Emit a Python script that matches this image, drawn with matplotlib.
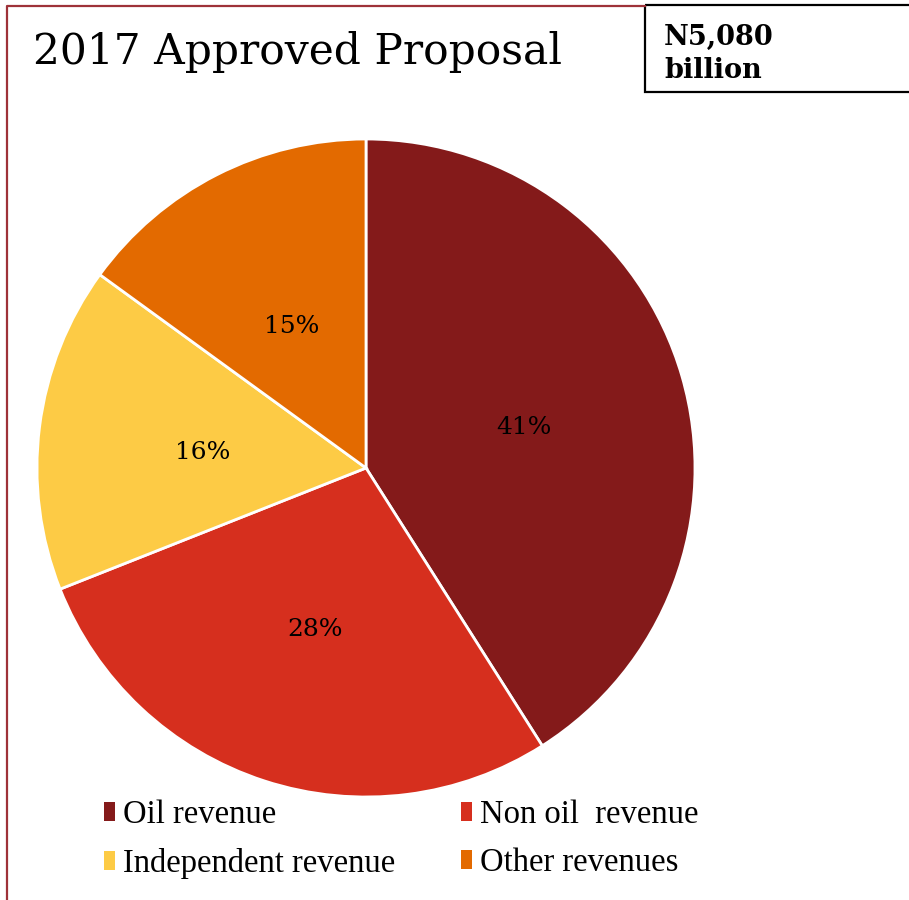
import matplotlib
matplotlib.use("Agg")
import matplotlib.pyplot as plt
from matplotlib.patches import Rectangle
from matplotlib.lines import Line2D

W, H, DPI = 909, 900, 100

# revenue shares of the 2017 approved budget proposal
labels = ["Oil revenue", "Non oil  revenue", "Independent revenue", "Other revenues"]
shares = [41, 28, 16, 15]
colors = ["#841a1a", "#d62f1e", "#fdcb45", "#e36a00"]
title = "2017 Approved Proposal"
total = "N5,080\nbillion"

fig = plt.figure(figsize=(W / DPI, H / DPI), dpi=DPI)

# frame: dark red rule across the top and down the left side
frame = fig.add_axes([0, 0, 1, 1])
frame.set_xlim(0, W); frame.set_ylim(H, 0); frame.axis("off")
frame.add_line(Line2D([7, 7, 645], [H, 6, 6], color="#9e3238", lw=1.6))
frame.add_patch(Rectangle((645, 5), 280, 87, fill=False, edgecolor="black", lw=1.6))
frame.text(33, 52, title, fontsize=30.5, family="DejaVu Serif", va="center", ha="left")
frame.text(664, 54, total, fontsize=19.5, family="DejaVu Serif", fontweight="bold",
           va="center", ha="left", linespacing=1.3)

# pie
ax = fig.add_axes([37 / W, (H - 797) / H, 658 / W, 658 / H])
wedges, _, autotexts = ax.pie(
    shares, colors=colors, startangle=90, counterclock=False, radius=1,
    autopct=lambda p: f"{p:.0f}%", pctdistance=0.5,
    wedgeprops=dict(edgecolor="white", linewidth=2.0),
    textprops=dict(fontsize=18, family="DejaVu Serif", color="black"))
for t in autotexts:
    x, y = t.get_position()
    t.set_position((x, y - 0.015))
ax.set_xlim(-1, 1); ax.set_ylim(-1, 1); ax.set_aspect("equal")
ax.axis("off")

# legend, two rows: Oil / Non oil, Independent / Other
order = [0, 2, 1, 3]
leg = fig.legend([wedges[i] for i in order], [labels[i] for i in order],
                 ncol=2, loc="upper left", bbox_to_anchor=(75 / W, 1 - 770 / H),
                 frameon=False, prop=dict(family="Liberation Serif", size=23.5),
                 handlelength=0.33, handleheight=0.5, handletextpad=0.25,
                 columnspacing=2.0, labelspacing=0.55)
for h in leg.legend_handles:
    h.set_edgecolor("none")

fig.savefig("out.png", dpi=DPI)
